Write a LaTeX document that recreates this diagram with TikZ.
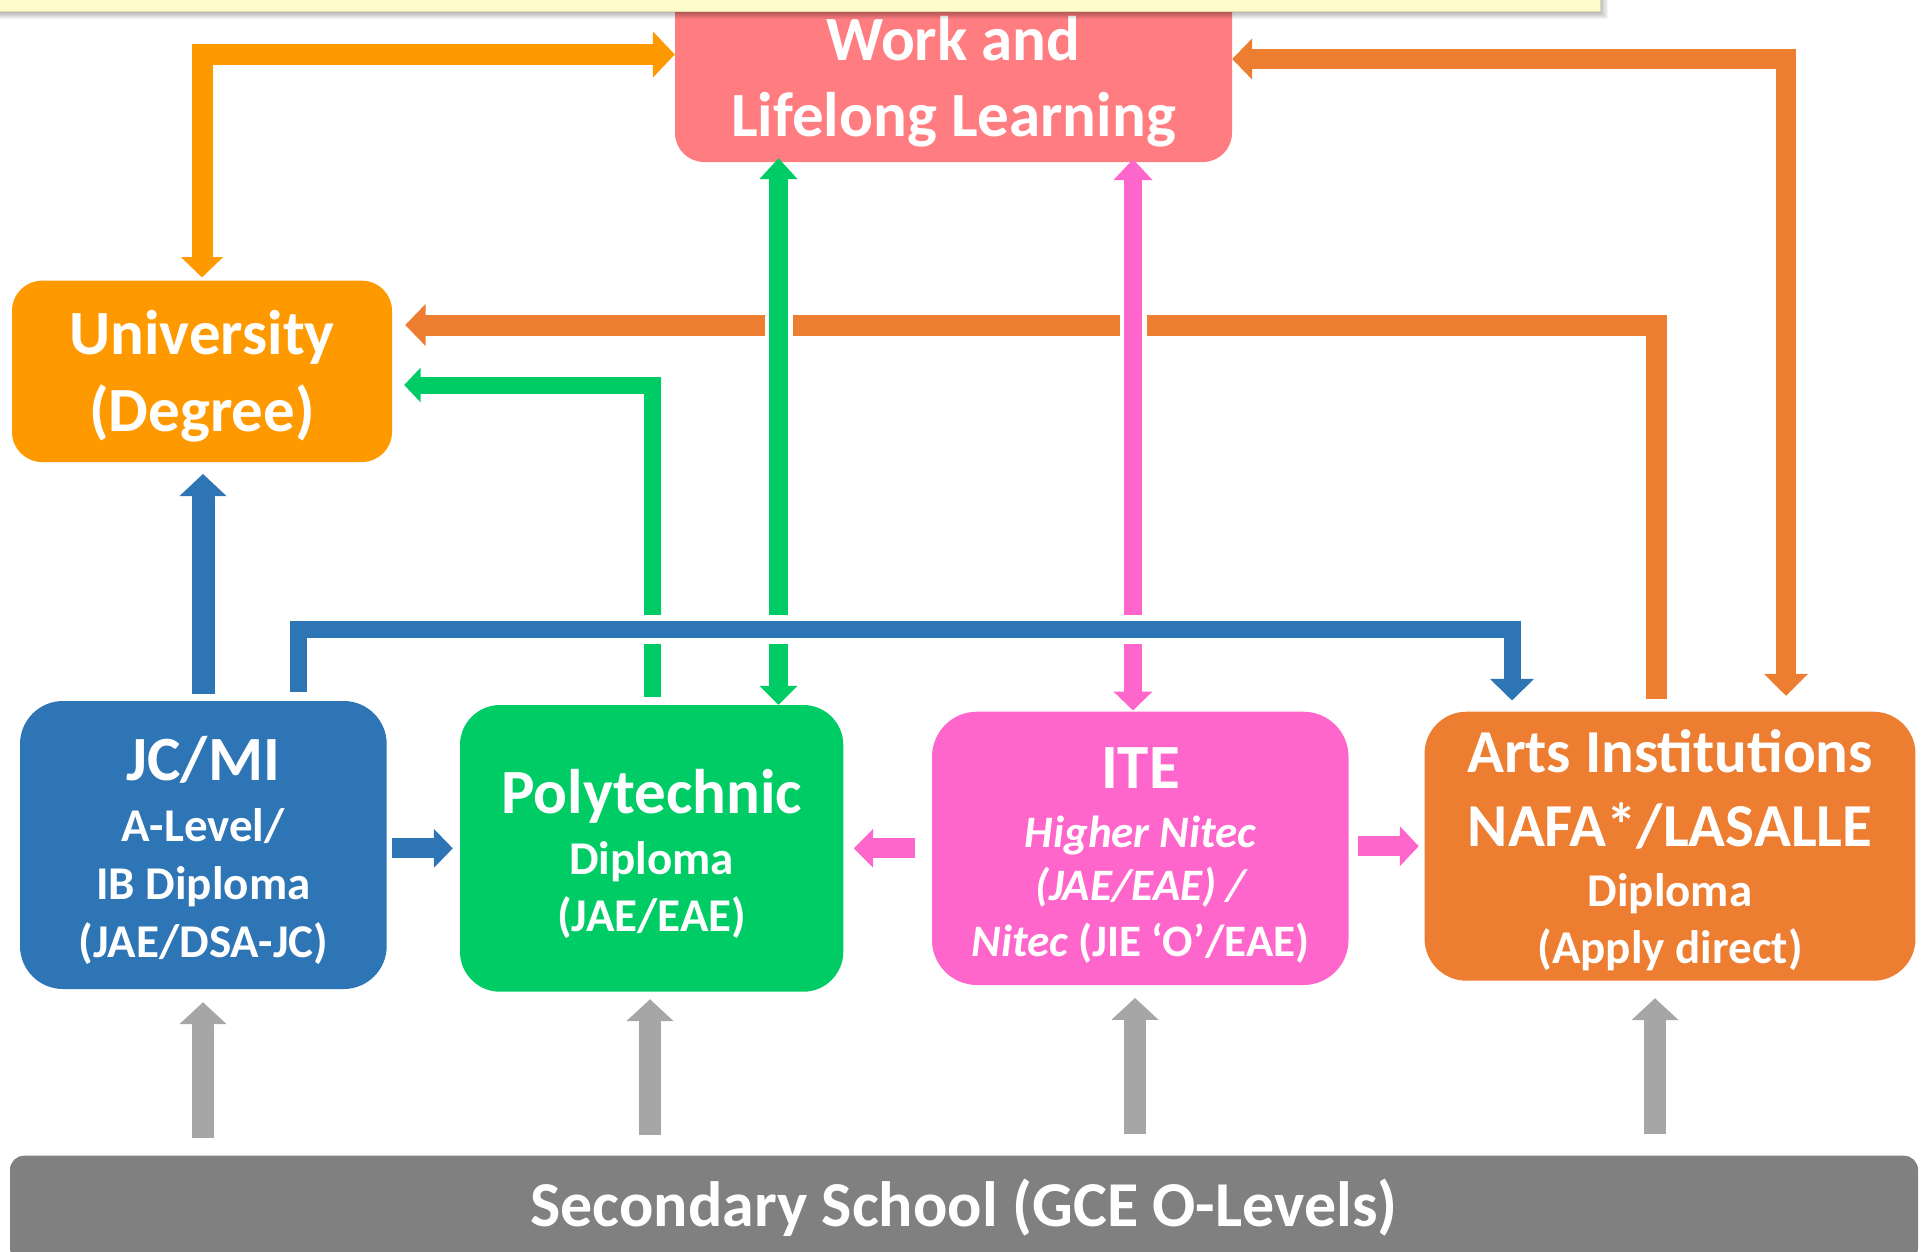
\documentclass[tikz,border=0pt]{standalone}
\usepackage{fontspec}
\setmainfont{Carlito}
\usetikzlibrary{arrows.meta}
\definecolor{cwork}{HTML}{FF7C80}
\definecolor{cuniv}{HTML}{FF9900}
\definecolor{cjc}{HTML}{2E75B6}
\definecolor{cpoly}{HTML}{00CC66}
\definecolor{cite}{HTML}{FF66CC}
\definecolor{carts}{HTML}{ED7D31}
\definecolor{csec}{HTML}{808080}
\definecolor{cgrayarr}{HTML}{A6A6A6}
\definecolor{cnote}{HTML}{FFFCCC}
\newcommand{\szbig}{\fontsize{63pt}{70pt}\selectfont\bfseries}
\newcommand{\szarts}{\fontsize{61pt}{70pt}\selectfont\bfseries}
\newcommand{\szsec}{\fontsize{64pt}{70pt}\selectfont\bfseries}
\newcommand{\szsub}{\fontsize{47pt}{56pt}\selectfont\bfseries}
\newcommand{\szite}{\fontsize{45pt}{54pt}\selectfont\bfseries}
\begin{document}
\begin{tikzpicture}[x=1pt,y=-1pt,
  box/.style={shape=rectangle, draw=none, inner sep=0pt},
  txt/.style={text=white, anchor=base, inner sep=0pt},
  conn/.style={line join=miter, line cap=butt},
  graytip/.style={-{Triangle[width=46pt,length=22pt]}},
  grayarr/.style={conn, draw=cgrayarr, line width=22pt, graytip}
]
\useasboundingbox (0,0) rectangle (1921,1251);
\clip (0,0) rectangle (1921,1251);

% ---------- boxes ----------
\node[box, fill=cwork, rounded corners=29pt, minimum width=557pt, minimum height=182pt] (work) at (953.5,71) {};
\node[box, fill=cuniv, rounded corners=30pt, minimum width=380pt, minimum height=181.3pt] (univ) at (202,371.35) {};
\node[box, fill=cjc, rounded corners=43pt, minimum width=366.7pt, minimum height=288pt] (jc) at (203.35,845) {};
\node[box, fill=cpoly, rounded corners=40pt, minimum width=383.3pt, minimum height=286.7pt] (poly) at (651.65,848.35) {};
\node[box, fill=cite, rounded corners=45pt, minimum width=416.5pt, minimum height=273.3pt] (ite) at (1140.25,848.35) {};
\node[box, fill=carts, rounded corners=42pt, minimum width=490.9pt, minimum height=269pt] (arts) at (1670,846.2) {};
\node[box, fill=csec, rounded corners=14pt, minimum width=1908pt, minimum height=106.3pt] (sec) at (964,1208.85) {};

% ---------- channel coordinates ----------
\coordinate (topL) at (0,54.5);
\coordinate (topR) at (0,59);
\coordinate (midO) at (0,325);
\coordinate (midG) at (0,385);
\coordinate (bus) at (0,629);

% ---------- orange: Arts -> University ----------
\draw[conn, draw=carts, line width=21pt, -{Triangle[width=41pt,length=20.5pt]}, shorten <=12.7pt, shorten >=13pt]
  (1656,0 |- arts.north) -- (1656,0 |- midO) -- (midO -| univ.east);
% gaps where green / pink cross
\draw[white, line width=28pt] (778.5,300) -- (778.5,350);
\draw[white, line width=27pt] (1133,300) -- (1133,350);

% ---------- green ----------
\draw[conn, draw=cpoly, line width=19pt, {Triangle[width=37pt,length=21pt]}-{Triangle[width=37pt,length=19pt]}, shorten <=-4pt]
  (778.5,0 |- work.south) -- (778.5,0 |- poly.north);
\draw[conn, draw=cpoly, line width=17pt, -{Triangle[width=34pt,length=16.5pt]}, shorten <=8pt, shorten >=12pt]
  (652,0 |- poly.north) -- (652,0 |- midG) -- (midG -| univ.east);

% ---------- pink ----------
\draw[conn, draw=cite, line width=18.5pt, {Triangle[width=38pt,length=21pt]}-{Triangle[width=38pt,length=19pt]}, shorten <=-3pt, shorten >=1pt]
  (1133,0 |- work.south) -- (1133,0 |- ite.north);
\draw[conn, draw=cite, line width=20pt, -{Triangle[width=38pt,length=19.4pt]}, shorten <=17pt, shorten >=10.3pt]
  (ite.west) -- (poly.east);
\draw[conn, draw=cite, line width=20pt, -{Triangle[width=39pt,length=19pt]}, shorten <=9.5pt, shorten >=5.6pt]
  (ite.east |- arts.west) -- (arts.west);

% ---------- blue ----------
\draw[white, line width=29pt] (320,629) -- (1490,629);
\draw[conn, draw=cjc, line width=17pt, -{Triangle[width=43pt,length=21.7pt]}, shorten <=9pt, shorten >=11pt]
  (298,0 |- jc.north) -- (298,0 |- bus) -- (1512,0 |- bus) -- (1512,0 |- arts.north);
\draw[conn, draw=cjc, line width=23pt, -{Triangle[width=46pt,length=22.3pt]}, shorten <=7pt, shorten >=11.7pt]
  (203,0 |- jc.north) -- (203,0 |- univ.south);
\draw[conn, draw=cjc, line width=20pt, -{Triangle[width=38pt,length=19pt]}, shorten <=5.3pt, shorten >=7pt]
  (jc.east |- poly.west) -- (poly.west);

% ---------- orange top ----------
\draw[conn, draw=cuniv, line width=21pt, {Triangle[width=41pt,length=20.5pt]}-{Triangle[width=45pt,length=22pt]}, shorten <=3pt]
  (202,0 |- univ.north) -- (202,0 |- topL) -- (topL -| work.west);
\draw[conn, draw=carts, line width=20pt, {Triangle[width=43pt,length=22pt]}-{Triangle[width=40pt,length=20pt]}, shorten <=15.7pt]
  (1786,0 |- arts.north) -- (1786,0 |- topR) -- (topR -| work.east);

% ---------- gray from secondary ----------
\draw[grayarr, shorten <=17.7pt, shorten >=13pt] (203,0 |- sec.north) -- (203,0 |- jc.south);
\draw[grayarr, shorten <=20.7pt, shorten >=7.3pt] (650,0 |- sec.north) -- (650,0 |- poly.south);
\draw[grayarr, shorten <=21.7pt, shorten >=12.7pt] (1135,0 |- sec.north) -- (1135,0 |- ite.south);
\draw[grayarr, shorten <=21.7pt, shorten >=17.3pt] (1655,0 |- sec.north) -- (1655,0 |- arts.south);

% ---------- texts ----------
\node[txt] (work1) at (953.5,60) {\szbig Work and};
\node[txt] (work2) at (953.5,136.7) {\szbig Lifelong Learning};
\node[txt] (univ1) at (202,354.3) {\szbig University};
\node[txt] (univ2) at (202,431) {\szbig (Degree)};
\node[txt] (jc1) at (203.35,780.7) {\szbig JC/MI};
\node[txt] (jc2) at (203.35,841.7) {\szsub A-Level/};
\node[txt] (jc3) at (203.35,899.3) {\szsub IB Diploma};
\node[txt] (jc4) at (203.35,957.7) {\szsub (JAE/DSA-JC)};
\node[txt] (poly1) at (651.65,813.3) {\szbig Polytechnic};
\node[txt] (poly2) at (651.65,874.3) {\szsub Diploma};
\node[txt] (poly3) at (651.65,931) {\szsub (JAE/EAE)};
\node[txt] (ite1) at (1140.5,788.3) {\szbig ITE};
\node[txt] (ite2) at (1140.5,847.3) {\szite\itshape Higher Nitec};
\node[txt] (ite3) at (1140.5,900.7) {\szite\itshape (JAE/EAE) /};
\node[txt] (ite4) at (1140.5,956) {\szite\textit{Nitec} (JIE ‘O’/EAE)};
\node[txt] (arts1) at (1670,772.7) {\szarts Arts Institutions};
\node[txt] (arts2) at (1670,846.7) {\szarts NAFA*/LASALLE};
\node[txt] (arts3) at (1670,906) {\szsub Diploma};
\node[txt] (arts4) at (1670,963.3) {\szsub (Apply direct)};
\node[txt] (sec1) at (964,1226.7) {\szsec Secondary School (GCE O-Levels)};

% ---------- pale note box at top (cut off) with shadow ----------
\foreach \i in {1,...,7} {
  \fill[black, opacity=0.045] (-10,-10) rectangle (1600+\i*1.1, 11.7+\i*1.1);
}
\node[box, fill=cnote, draw={rgb,255:red,222;green,218;blue,170}, line width=0.8pt, minimum width=1620pt, minimum height=31.7pt] (note) at (790,-4.15) {};
\end{tikzpicture}
\end{document}
